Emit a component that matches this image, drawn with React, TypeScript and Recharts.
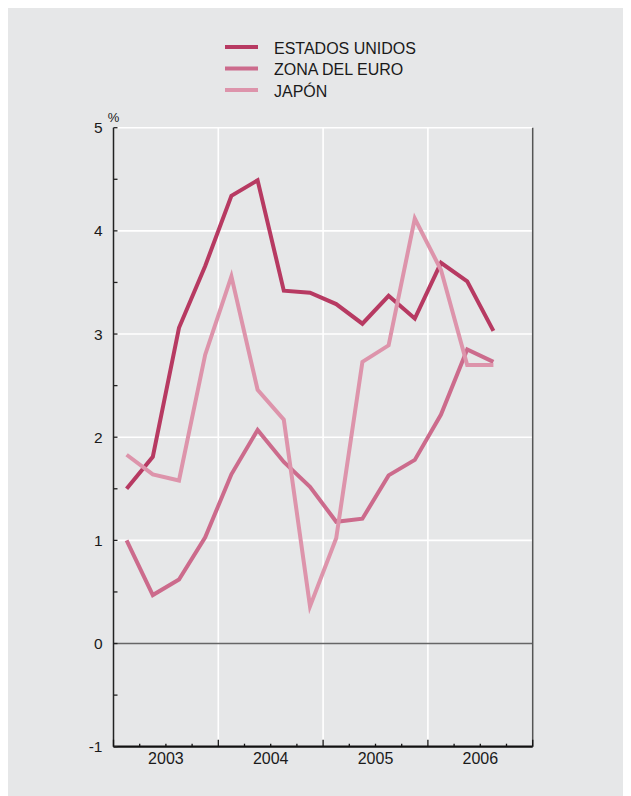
import React from 'react';
import { LineChart, Line, XAxis, YAxis, CartesianGrid, ReferenceLine, Legend } from 'recharts';

const years = ['2003', '2004', '2005', '2006'];
const quarters = [
    '2003-T1', '2003-T2', '2003-T3', '2003-T4',
    '2004-T1', '2004-T2', '2004-T3', '2004-T4',
    '2005-T1', '2005-T2', '2005-T3', '2005-T4',
    '2006-T1', '2006-T2', '2006-T3', '2006-T4',
];
const estadosUnidos = [1.5, 1.81, 3.06, 3.66, 4.34, 4.49, 3.42, 3.4, 3.29, 3.1, 3.37, 3.15, 3.69, 3.51, 3.03, null];
const zonaEuro = [1.0, 0.47, 0.62, 1.03, 1.64, 2.07, 1.76, 1.52, 1.18, 1.21, 1.63, 1.78, 2.22, 2.85, 2.73, null];
const japon = [1.83, 1.64, 1.58, 2.8, 3.56, 2.46, 2.17, 0.36, 1.02, 2.73, 2.89, 4.12, 3.62, 2.7, 2.7, null];

const SERIES = [
    { key: 'us', name: 'ESTADOS UNIDOS', color: '#b73a62', values: estadosUnidos },
    { key: 'eu', name: 'ZONA DEL EURO', color: '#cc6b8c', values: zonaEuro },
    { key: 'jp', name: 'JAPÓN', color: '#dd94ab', values: japon },
];

const data = quarters.map((q, i) => ({
    quarter: q,
    t: i + 0.5,
    us: estadosUnidos[i],
    eu: zonaEuro[i],
    jp: japon[i],
}));

const FONT = '"Liberation Sans", Arial, Helvetica, sans-serif';
const TEXT = '#1a1a1a';
const xTicks = Array.from({ length: quarters.length + 1 }, (_, i) => i);
const yTicks = Array.from({ length: 13 }, (_, i) => -1 + i * 0.5);

const XTick = ({ x, y, payload }: any) => {
    const t = payload.value;
    const major = t % 4 === 0;
    return (
        <g>
            <line x1={x} x2={x} y1={y} y2={y - (major ? 7 : 3)} stroke="#111" strokeWidth={1.3} />
            {t % 4 === 2 && (
                <text x={x} y={y + 17} textAnchor="middle" fontSize={16} fontFamily={FONT} fill={TEXT}>
                    {years[(t - 2) / 4]}
                </text>
            )}
        </g>
    );
};

const LeftTick = ({ x, y, payload }: any) => {
    const v = payload.value;
    return (
        <g>
            <line x1={x} x2={x + 4} y1={y} y2={y} stroke="#222" strokeWidth={1.3} />
            {Number.isInteger(v) && (
                <text x={x - 11} y={y + 5.5} textAnchor="end" fontSize={15.5} fontFamily={FONT} fill={TEXT}>
                    {v}
                </text>
            )}
            {v === 5 && (
                <text x={x} y={y - 5.5} textAnchor="middle" fontSize={13} fontFamily={FONT} fill={TEXT}>
                    %
                </text>
            )}
        </g>
    );
};

const RightTick = ({ x, y, payload }: any) => {
    const v = payload.value;
    return (
        <g>
            <line x1={x} x2={x - 4} y1={y} y2={y} stroke="#444" strokeWidth={1.3} />
            {Number.isInteger(v) && (
                <text x={x + 23} y={y + 5.5} textAnchor="end" fontSize={15.5} fontFamily={FONT} fill={TEXT}>
                    {v}
                </text>
            )}
            {v === 5 && (
                <text x={x} y={y - 5.5} textAnchor="middle" fontSize={13} fontFamily={FONT} fill={TEXT}>
                    %
                </text>
            )}
        </g>
    );
};

// keep the legend in series order (recharts sorts its payload by name)
const LegendContent = ({ payload }: any) => {
    const items = SERIES.map((s) => (payload || []).find((p: any) => p.dataKey === s.key) || { value: s.name, color: s.color });
    return (
        <svg width={260} height={70}>
            {items.map((item: any, i: number) => (
                <g key={item.value} transform={`translate(0, ${11 + i * 21.5})`}>
                    <line x1={0} x2={33} y1={0} y2={0} stroke={item.color} strokeWidth={4} />
                    <text x={49} y={6.7} fontSize={16} fontFamily={FONT} fill={TEXT}>
                        {item.value}
                    </text>
                </g>
            ))}
        </svg>
    );
};

const App: React.FC = () => {
    return (
        <div style={{ width: 623, height: 788, background: '#e6e7e8' }}>
            <LineChart
                width={623}
                height={788}
                data={data}
                margin={{ top: 119.7, right: 58.3, bottom: 19.3, left: 65.5 }}
            >
                <CartesianGrid
                    yAxisId="left"
                    stroke="#ffffff"
                    strokeWidth={1.6}
                    horizontalValues={[1, 2, 3, 4, 5]}
                    verticalValues={[4, 8, 12]}
                />
                <XAxis
                    type="number"
                    dataKey="t"
                    domain={[0, quarters.length]}
                    ticks={xTicks}
                    interval={0}
                    tick={<XTick />}
                    tickLine={false}
                    tickSize={0}
                    tickMargin={0}
                    height={30}
                    axisLine={{ stroke: '#111', strokeWidth: 2.2 }}
                />
                <YAxis
                    yAxisId="left"
                    orientation="left"
                    domain={[-1, 5]}
                    ticks={yTicks}
                    interval={0}
                    tick={<LeftTick />}
                    tickLine={false}
                    tickSize={0}
                    tickMargin={0}
                    width={40}
                    axisLine={{ stroke: '#222', strokeWidth: 1.5 }}
                />
                <YAxis
                    yAxisId="right"
                    orientation="right"
                    domain={[-1, 5]}
                    ticks={yTicks}
                    interval={0}
                    tick={<RightTick />}
                    tickLine={false}
                    tickSize={0}
                    tickMargin={0}
                    width={40}
                    axisLine={{ stroke: '#555', strokeWidth: 1.5 }}
                />
                <ReferenceLine yAxisId="left" y={0} stroke="#666" strokeWidth={1.5} />
                <Legend
                    layout="horizontal"
                    verticalAlign="middle"
                    align="center"
                    content={<LegendContent />}
                    wrapperStyle={{ top: 28.3, left: 217, width: 260, height: 70 }}
                />
                {SERIES.map((s) => (
                    <Line
                        key={s.key}
                        yAxisId="left"
                        type="linear"
                        dataKey={s.key}
                        name={s.name}
                        stroke={s.color}
                        strokeWidth={4}
                        strokeLinejoin="miter"
                        dot={false}
                        activeDot={false}
                        connectNulls={false}
                        isAnimationActive={false}
                    />
                ))}
            </LineChart>
        </div>
    );
};

export default App;
